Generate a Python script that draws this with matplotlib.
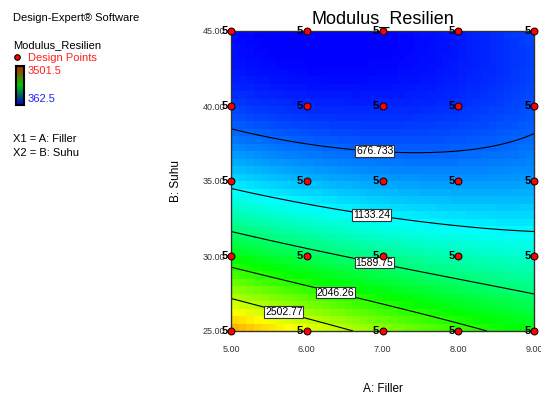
import numpy as np
import matplotlib
matplotlib.use('Agg')
import matplotlib.pyplot as plt
from matplotlib.colors import LinearSegmentedColormap

plt.rcParams['font.family'] = ['Liberation Sans', 'DejaVu Sans']

# design grid (A: Filler, B: Suhu) and response
filler = [5.0, 6.0, 7.0, 8.0, 9.0]
suhu = [25.0, 30.0, 35.0, 40.0, 45.0]
# rows follow suhu, columns follow filler
modulus = [
    [3050, 2650, 2360, 2200, 1920],
    [1885, 1690, 1526, 1370, 1220],
    [1093, 966, 871, 815, 900],
    [522, 460, 450, 490, 660],
    [400, 380, 390, 430, 560],
]
contour_levels = [676.733, 1133.24, 1589.75, 2046.26, 2502.77]
label_spots = [(6.90, 37.1), (6.86, 32.9), (6.90, 29.7), (6.37, 27.3), (5.70, 26.3)]
z_min, z_max = 362.5, 3501.5
replicates = 5

W, H = 541, 399


def fpos(x, y):
    return x / W, 1 - y / H


def cubic_terms(x, y):
    return np.stack([np.ones_like(x), x, y, x * x, x * y, y * y,
                     x * x * y, x * y * y, x ** 3, y ** 3], axis=-1)


# smooth response surface through the design points
gx, gy = np.meshgrid(filler, suhu)
coef, *_ = np.linalg.lstsq(cubic_terms(gx.ravel(), gy.ravel()),
                           np.asarray(modulus, float).ravel(), rcond=None)

fx = np.linspace(5, 9, 41)
fy = np.linspace(25, 45, 41)
cx = (fx[:-1] + fx[1:]) / 2
cy = (fy[:-1] + fy[1:]) / 2
CX, CY = np.meshgrid(cx, cy)
CZ = cubic_terms(CX, CY) @ coef

cmap = LinearSegmentedColormap.from_list(
    'de', ['#0000ff', '#00ffff', '#00ff00', '#ffff00', '#ff0000'])

fig = plt.figure(figsize=(W / 100, H / 100), dpi=100)
ax = fig.add_axes([231 / W, 1 - 331 / H, 303 / W, 300 / H])
ax.pcolormesh(fx, fy, CZ, cmap=cmap, vmin=z_min, vmax=z_max, shading='flat')

fine_x = np.linspace(5, 9, 200)
fine_y = np.linspace(25, 45, 200)
FFX, FFY = np.meshgrid(fine_x, fine_y)
cs = ax.contour(FFX, FFY, cubic_terms(FFX, FFY) @ coef, levels=contour_levels,
                colors='black', linewidths=0.8)
labels = ax.clabel(cs, inline=False, fontsize=7.5,
                   fmt={lv: f'{lv:.2f}' if lv != 676.733 else '676.733'
                        for lv in contour_levels},
                   manual=label_spots)
for t in labels:
    t.set_rotation(0)
    t.set_bbox(dict(facecolor='white', edgecolor='#333333', pad=0.6, lw=0.8))

for xv in filler:
    for yv in suhu:
        ax.plot(xv, yv, 'o', ms=5, mfc='red', mec='black', mew=0.7, clip_on=False, zorder=5)
        ax.annotate(str(replicates), (xv, yv), xytext=(-2.5, 0), textcoords='offset points',
                    ha='right', va='center', fontsize=8, fontweight='bold',
                    annotation_clip=False, zorder=6)

ax.set_xlim(5, 9)
ax.set_ylim(25, 45)
ax.set_xticks(filler)
ax.set_yticks(suhu)
ax.set_xticklabels([f'{v:.2f}' for v in filler])
ax.set_yticklabels([f'{v:.2f}' for v in suhu])
ax.tick_params(axis='both', length=0, labelsize=6.5, labelcolor='#333333')
ax.tick_params(axis='x', pad=10)
ax.tick_params(axis='y', pad=4)
for s in ax.spines.values():
    s.set_color('#333333')
    s.set_linewidth(1)

ax.set_title('Modulus_Resilien', fontsize=13, pad=5)
fig.text(*fpos(383, 389), 'A: Filler', ha='center', va='center', fontsize=8.5)
fig.text(*fpos(176, 181), 'B: Suhu', ha='center', va='center', fontsize=8.5, rotation=90)

# side legend
fig.text(*fpos(13, 18), 'Design-Expert\u00ae Software', va='center', fontsize=8)
fig.text(*fpos(13, 45), 'Modulus_Resilien', va='center', fontsize=8)
fig.text(*fpos(28, 58), 'Design Points', va='center', fontsize=8, color='#ff2020')
fig.text(*fpos(28, 71), f'{z_max}', va='center', fontsize=8, color='#ff2020')
fig.text(*fpos(28, 99), f'{z_min}', va='center', fontsize=8, color='#2020ff')
fig.text(*fpos(13, 139), 'X1 = A: Filler', va='center', fontsize=8)
fig.text(*fpos(13, 153), 'X2 = B: Suhu', va='center', fontsize=8)
fig.lines.append(plt.Line2D([17 / W], [1 - 57 / H], marker='o', ms=4, mfc='red',
                            mec='black', mew=0.8, transform=fig.transFigure))

cbar_cmap = LinearSegmentedColormap.from_list('bar', ['#0000c8', '#00c800', '#c81e00'])
cax = fig.add_axes([16 / W, 1 - 105 / H, 8 / W, 39 / H])
cax.imshow(np.linspace(0, 1, 50)[:, None], cmap=cbar_cmap, origin='lower', aspect='auto')
cax.set_xticks([])
cax.set_yticks([])
for s in cax.spines.values():
    s.set_linewidth(1.5)

fig.savefig('out.png', dpi=100)
